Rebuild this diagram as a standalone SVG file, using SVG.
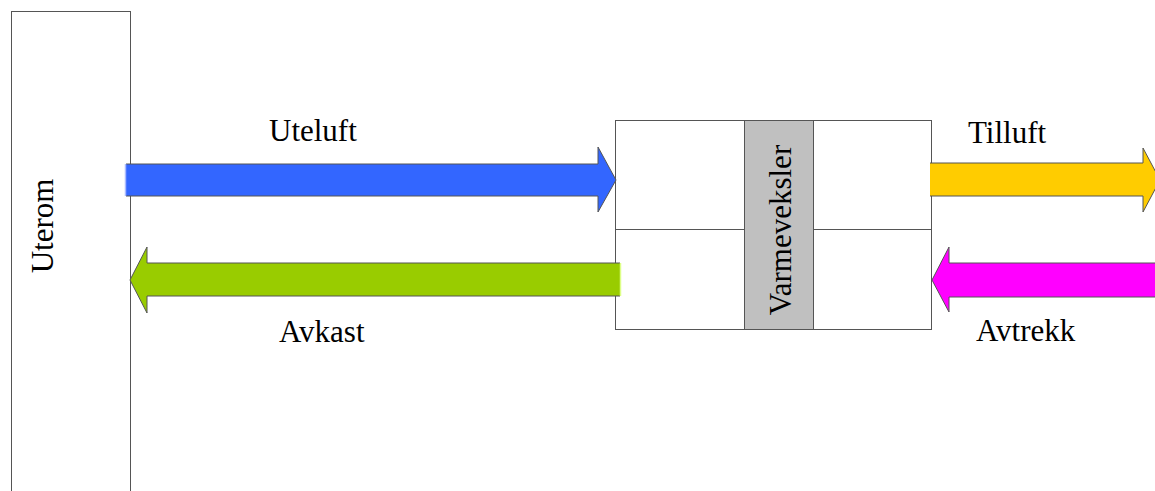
<svg xmlns="http://www.w3.org/2000/svg" width="1155" height="491" viewBox="0 0 1155 491">
  <style>
    .box { fill: #ffffff; stroke: #555555; stroke-width: 1; }
    .hx { fill: #c0c0c0; stroke: #555555; stroke-width: 1; }
    .lbl { font-family: "Liberation Serif", "Times New Roman", serif; font-size: 31px; fill: #000000; }
    .edge { fill: none; stroke: #555555; stroke-width: 1; stroke-linejoin: miter; }
  </style>
  <rect x="0" y="0" width="1155" height="491" fill="#ffffff"/>

  <g id="uterom">
    <rect class="box" x="11.5" y="11.5" width="119" height="500"/>
    <text class="lbl" transform="translate(53,226) rotate(-90)" text-anchor="middle">Uterom</text>
  </g>

  <g id="aggregat">
    <rect class="box" x="615.5" y="120.5" width="316" height="209"/>
    <line x1="615.5" y1="229.5" x2="931.5" y2="229.5" stroke="#555555" stroke-width="1"/>
  </g>

  <g id="varmeveksler">
    <rect class="hx" x="744.5" y="120.5" width="69" height="209"/>
    <text class="lbl" transform="translate(791,230) rotate(-90)" text-anchor="middle">Varmeveksler</text>
  </g>

  <g id="connectors">
    <g id="uteluft">
      <polygon points="126,164 598,164 598,147 616,180 598,212 598,196 126,196" fill="#3366ff"/>
      <path class="edge" d="M126,164 H598 V147 L616,180 L598,212 V196 H126"/>
      <line x1="125.5" y1="164" x2="125.5" y2="196" stroke="#aabbff" stroke-width="1.5"/>
      <text class="lbl" x="269" y="141">Uteluft</text>
    </g>
    <g id="avkast">
      <polygon points="620,263 147,263 147,247 130,280 147,313 147,296 620,296" fill="#99cc00"/>
      <path class="edge" d="M620,263 H147 V247 L130,280 L147,313 V296 H620"/>
      <line x1="620.5" y1="263" x2="620.5" y2="296" stroke="#ddff88" stroke-width="1.5"/>
      <text class="lbl" x="279" y="342">Avkast</text>
    </g>
    <g id="tilluft">
      <polygon points="930,163 1143,163 1143,148 1160,180 1143,212 1143,196 930,196" fill="#ffcc00"/>
      <path class="edge" d="M930,163 H1143 V148 L1160,180 L1143,212 V196 H930"/>
      <text class="lbl" x="968" y="143">Tilluft</text>
    </g>
    <g id="avtrekk">
      <polygon points="1160,263 949,263 949,247 932,280 949,312 949,297 1160,297" fill="#ff00ff"/>
      <path class="edge" d="M1160,263 H949 V247 L932,280 L949,312 V297 H1160"/>
      <text class="lbl" x="976" y="341">Avtrekk</text>
    </g>
  </g>
</svg>
